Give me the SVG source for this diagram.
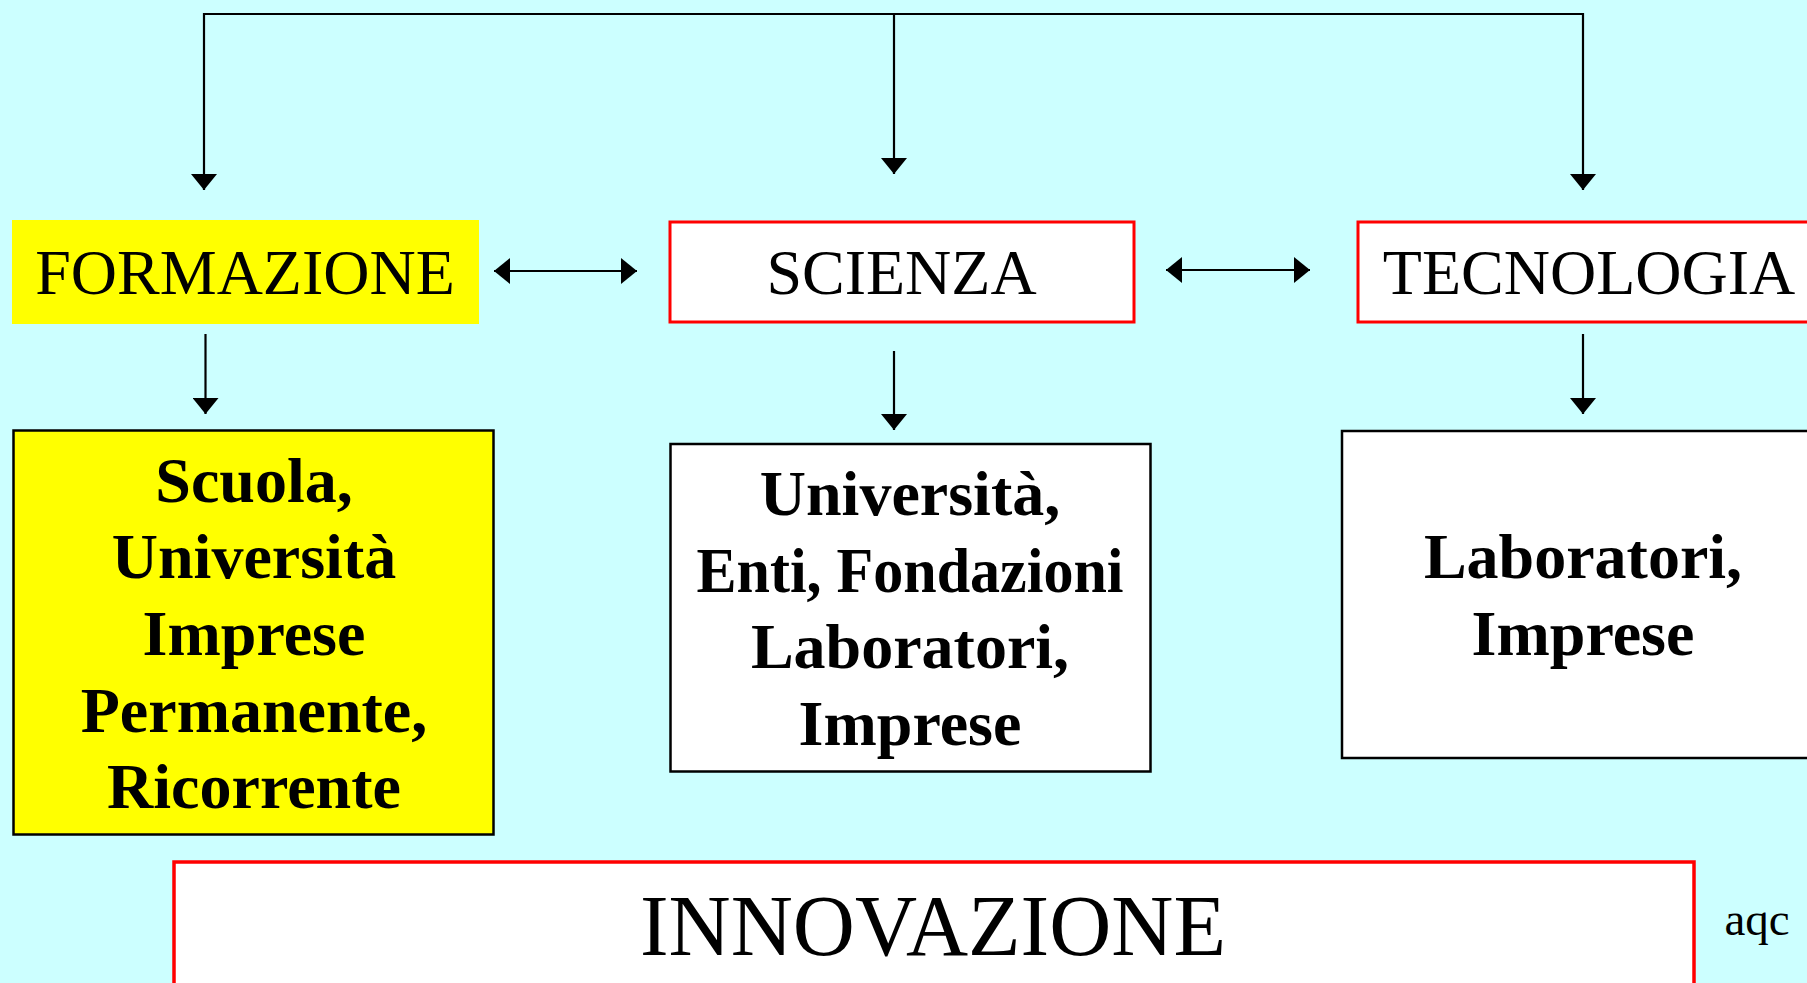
<svg xmlns="http://www.w3.org/2000/svg" width="1807" height="983" viewBox="0 0 1807 983">
<style>
.t{font-family:"Liberation Serif","Times New Roman",serif;fill:#000;text-anchor:middle}
.h{font-size:64px}
.b{font-size:64px;font-weight:bold}
.c{fill:none;stroke:#000;stroke-width:2.2}
</style>
<defs>
<marker id="ah" markerUnits="userSpaceOnUse" markerWidth="16" markerHeight="26" refX="16" refY="13" orient="auto-start-reverse" viewBox="0 0 16 26">
<path d="M0,0 L16,13 L0,26 z" fill="#000"/>
</marker>
</defs>
<rect width="1807" height="983" fill="#CCFFFF"/>
<g id="connectors">
<polyline class="c" points="204,190 204,14 1583,14 1583,190" marker-start="url(#ah)" marker-end="url(#ah)"/>
<path class="c" d="M894,14 L894,174" marker-end="url(#ah)"/>
<path class="c" d="M494,271 L637,271" marker-start="url(#ah)" marker-end="url(#ah)"/>
<path class="c" d="M1166,270 L1310,270" marker-start="url(#ah)" marker-end="url(#ah)"/>
<path class="c" d="M205.5,334 L205.5,414" marker-end="url(#ah)"/>
<path class="c" d="M894,351 L894,430" marker-end="url(#ah)"/>
<path class="c" d="M1583,334 L1583,414" marker-end="url(#ah)"/>
</g>
<g id="formazione">
<rect x="12" y="220" width="467" height="104" fill="#FFFF00"/>
<text class="t h" x="245" y="294">FORMAZIONE</text>
</g>
<g id="scienza">
<rect x="670" y="222" width="464" height="100" fill="#FFFFFF" stroke="#FF0000" stroke-width="3"/>
<text class="t h" x="901.5" y="294">SCIENZA</text>
</g>
<g id="tecnologia">
<rect x="1358" y="222" width="470" height="100" fill="#FFFFFF" stroke="#FF0000" stroke-width="3"/>
<text class="t h" x="1589" y="294">TECNOLOGIA</text>
</g>
<g id="formazione-enti">
<rect x="13.5" y="430.5" width="480" height="404" fill="#FFFF00" stroke="#000" stroke-width="2.5"/>
<text class="t b" x="254" y="502">Scuola,</text>
<text class="t b" x="254" y="578">Università</text>
<text class="t b" x="254" y="655">Imprese</text>
<text class="t b" x="254" y="732">Permanente,</text>
<text class="t b" x="254" y="808">Ricorrente</text>
</g>
<g id="scienza-enti">
<rect x="670.5" y="444" width="480" height="327.5" fill="#FFFFFF" stroke="#000" stroke-width="2.5"/>
<text class="t b" x="910" y="515">Università,</text>
<text class="t b" x="910" y="592" textLength="427" lengthAdjust="spacingAndGlyphs">Enti, Fondazioni</text>
<text class="t b" x="910" y="668">Laboratori,</text>
<text class="t b" x="910" y="745">Imprese</text>
</g>
<g id="tecnologia-enti">
<rect x="1342" y="431" width="480" height="327" fill="#FFFFFF" stroke="#000" stroke-width="2.5"/>
<text class="t b" x="1583" y="578">Laboratori,</text>
<text class="t b" x="1583" y="655">Imprese</text>
</g>
<g id="innovazione">
<rect x="174" y="862" width="1520" height="140" fill="#FFFFFF" stroke="#FF0000" stroke-width="3.5"/>
<text class="t" x="933" y="955" font-size="86">INNOVAZIONE</text>
</g>
<text class="t" x="1757" y="935" font-size="47">aqc</text>
</svg>
